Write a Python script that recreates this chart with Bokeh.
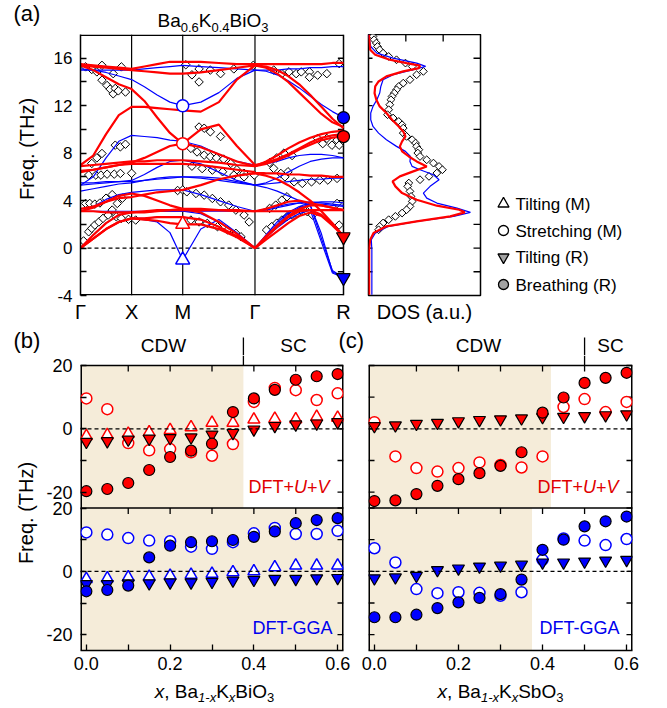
import numpy as np
from bokeh.plotting import figure
from bokeh.models import Range1d, LinearAxis, FixedTicker, Span, BoxAnnotation, Label
from bokeh.layouts import row, column
from bokeh.embed import file_html
from bokeh.resources import INLINE

FONT = "Liberation Sans"
RED, BLUE = "#ff0000", "#0000ff"
TXT_RED, TXT_BLUE = "#e00000", "#0000ee"
BEIGE = "#f5ecd9"
GRAY = "#a3a3a3"

# ---------------- (a) phonon dispersion, Ba0.6K0.4BiO3 ----------------
kpath = [0.0, 0.125, 0.25, 0.375, 0.5, 0.625, 0.75, 0.875, 1.0,
         1.177, 1.354, 1.530, 1.707,
         1.815, 1.924, 2.032, 2.140, 2.248, 2.357, 2.465, 2.573]
kpoint_pos = [0.0, 0.5, 1.0, 1.707, 2.573]
kpoint_lab = ["Γ", "X", "M", "Γ", "R"]

# DFT+U+V bands (THz)
uv_b01 = [15.5,15.4,15.3,15.2,15.1, 15.3,15.5,15.7,15.7, 15.7,15.6,15.5,15.5, 15.5,15.5,15.5,15.5,15.5,15.5,15.6,15.6]
uv_b02 = [15.4,15.3,15.2,15.1,15.0, 14.9,14.8,14.7,14.7, 14.8,15.0,15.2,15.4, 15.3,15.0,14.5,13.8,12.9,11.9,10.9,10.1]
uv_b03 = [15.4,15.0,14.4,13.8,13.4, 12.4,11.0,9.7,8.8, 10.0,10.4,8.6,7.0, 7.2,7.5,7.9,8.4,8.9,9.3,9.5,9.6]
uv_b04 = [7.0,7.8,9.6,11.2,11.9, 11.9,11.8,11.7,11.6, 11.5,12.3,14.2,15.4, 15.2,14.7,14.0,13.1,12.2,11.3,10.6,10.2]
uv_b05 = [6.9,7.0,7.1,7.2,7.3, 7.3,7.4,7.4,7.4, 7.3,7.2,7.0,6.9, 7.1,7.4,7.8,8.3,8.7,9.1,9.3,9.4]
uv_b06 = [6.4,6.6,6.8,7.0,7.1, 7.1,7.1,7.1,7.1, 7.0,6.8,6.6,6.4, 6.3,6.3,6.2,6.2,6.1,6.1,6.0,6.0]
uv_b07 = [6.5,6.6,6.8,7.0,7.2, 7.6,8.1,8.6,8.8, 8.5,7.9,7.3,6.9, 7.3,7.8,8.4,8.9,9.3,9.6,9.8,9.9]
uv_b08 = [3.1,3.4,3.9,4.4,4.6, 4.4,4.0,3.6,3.3, 3.3,3.2,3.2,3.1, 3.1,3.1,3.1,3.2,3.2,3.2,3.2,3.2]
uv_b09 = [3.3,3.5,3.9,4.2,4.3, 4.5,4.7,4.8,4.9, 5.3,5.8,6.1,6.3, 6.1,5.8,5.3,4.7,4.0,3.1,2.1,1.0]
uv_b10 = [0.0,0.8,1.6,2.2,2.5, 2.4,2.3,2.1,2.0, 2.0,1.6,0.9,0.0, 0.7,1.4,2.1,2.7,3.0,2.7,1.9,1.0]
uv_b11 = [0.0,0.8,1.6,2.2,2.5, 2.5,2.6,2.6,2.6, 2.4,1.8,1.0,0.0, 0.9,1.8,2.6,3.1,3.2,2.8,2.0,1.0]
uv_b12 = [0.0,1.1,2.1,2.8,3.0, 3.0,3.1,3.2,3.3, 3.0,2.2,1.2,0.0, 1.0,1.9,2.7,3.3,3.6,3.6,3.4,3.2]
uv_b13 = [3.1,3.1,3.0,3.0,3.0, 3.1,3.2,3.2,3.2, 3.2,3.2,3.1,3.1, 3.3,3.6,3.9,4.0,3.8,3.6,3.4,3.2]
bands_uv = [uv_b01, uv_b02, uv_b03, uv_b04, uv_b05, uv_b06, uv_b07,
            uv_b08, uv_b09, uv_b10, uv_b11, uv_b12, uv_b13]

# DFT-GGA bands (THz)
gga_b01 = [15.0,15.0,15.0,15.0,15.0, 15.1,15.2,15.3,15.4, 15.3,15.2,15.1,15.0, 15.0,15.0,15.1,15.1,15.2,15.2,15.3,15.3]
gga_b02 = [15.1,15.0,14.8,14.5,14.2, 13.6,12.9,12.3,12.0, 12.3,13.1,14.3,15.0, 14.9,14.6,14.1,13.5,12.8,12.1,11.5,11.0]
gga_b03 = [5.3,6.0,7.6,9.0,9.5, 9.4,9.3,9.1,9.0, 8.6,7.9,7.3,7.0, 7.1,7.3,7.6,7.8,7.9,7.9,7.8,7.6]
gga_b04 = [5.5,5.5,5.6,5.6,5.7, 6.2,6.8,7.3,7.4, 7.1,6.4,5.7,5.3, 5.4,5.5,5.6,5.7,5.8,5.8,5.9,5.9]
gga_b05 = [4.8,5.0,5.2,5.4,5.5, 5.7,5.9,6.0,6.0, 5.9,5.7,5.5,5.3, 5.1,4.8,4.4,4.0,3.6,1.2,-2.0,-2.5]
gga_b06 = [3.1,3.5,4.1,4.5,4.7, 4.8,4.9,4.9,4.9, 4.5,4.0,3.5,3.1, 3.3,3.5,3.7,3.8,3.6,0.8,-1.9,-2.5]
gga_b07 = [0.0,0.8,1.6,2.2,2.5, 2.4,2.2,1.3,-1.0, 1.6,2.4,1.3,0.0, 0.9,1.7,2.4,2.9,3.2,0.5,-2.1,-2.5]
gga_b08 = [0.0,0.8,1.6,2.2,2.5, 2.5,2.6,2.6,2.6, 2.4,1.8,1.0,0.0, 1.0,2.0,2.9,3.4,3.7,3.7,3.6,3.5]
gga_b09 = [0.0,1.1,2.1,2.8,3.0, 3.0,3.1,3.1,3.1, 2.9,2.2,1.2,0.0, 1.1,2.2,3.0,3.5,3.8,3.9,3.9,3.8]
gga_b10 = [5.3,5.4,5.5,5.6,5.6, 5.7,5.8,5.9,6.0, 6.0,5.9,5.6,5.3, 5.5,5.9,6.4,6.9,7.3,7.5,7.6,7.6]
gga_b11 = [3.1,3.1,3.1,3.1,3.1, 3.1,3.1,3.1,3.1, 3.1,3.1,3.1,3.1, 3.2,3.4,3.6,3.8,3.9,3.8,3.7,3.6]
bands_gga = [gga_b01, gga_b02, gga_b03, gga_b04, gga_b05, gga_b06,
             gga_b07, gga_b08, gga_b09, gga_b10, gga_b11]

# experimental points
exp_k = [0.05,0.11,0.16,0.21,0.21,0.26,0.29,0.32,0.34,0.37,0.40,0.44,0.32,
         0.11,0.16,0.21,0.34,0.39,0.44,
         0.08,0.15,0.20,0.26,0.33,0.39,0.50,
         0.05,0.09,0.14,0.19,0.25,0.31,0.36,0.41,
         0.03,0.08,0.11,0.14,0.18,0.22,0.27,0.31,0.35,0.40,0.47,
         0.54,0.95,1.00,
         1.03,1.09,1.16,1.16,1.27,1.37,1.50,1.69,
         1.16,1.21,1.27,1.37,1.08,1.14,1.21,1.27,1.33,1.40,1.47,1.53,1.60,1.70,
         1.09,1.19,1.29,1.39,1.50,1.60,
         1.04,1.13,1.21,1.29,1.37,1.45,1.52,1.60,1.65,
         1.08,1.16,1.24,1.34,1.44,1.52,1.57,
         1.89,1.97,2.04,2.11,2.16,2.24,2.24,2.32,2.41,2.53,
         2.32,2.37,2.41,2.46,2.51,2.53,1.85,1.92,1.99,2.07,
         1.82,1.87,1.92,1.97,2.02,2.07,2.12,1.85,1.91,1.97,2.02,2.16,2.22,2.27,2.51,2.53,
         1.89,1.96,2.00,2.09,2.17,2.26,2.34,2.42,2.51,2.03]
exp_f = [15.27,15.05,14.85,15.40,14.15,13.70,13.40,13.00,13.45,13.25,15.27,13.15,14.70,
         7.13,7.60,7.97,8.67,8.53,8.75,
         6.15,6.15,6.15,6.23,6.23,6.29,6.30,
         3.76,3.76,3.70,3.80,4.20,4.50,3.76,4.20,
         0.60,1.37,1.66,1.94,2.20,2.50,2.78,3.20,2.64,2.50,2.42,
         2.36,4.85,4.90,
         15.45,14.60,15.10,14.00,15.00,14.70,15.10,15.40,
         10.20,10.10,9.80,9.40,8.40,8.10,7.83,7.70,7.60,7.50,7.13,6.60,6.30,6.15,
         6.90,6.70,6.57,6.43,6.15,6.00,
         4.74,4.60,4.46,4.18,3.90,3.62,3.20,2.78,2.20,
         2.36,2.20,2.08,1.80,1.52,1.24,0.95,
         15.00,14.70,14.85,14.70,14.85,14.85,14.40,14.57,14.70,15.55,
         9.24,8.80,9.24,8.67,9.10,8.67,7.20,7.60,8.00,7.80,
         1.52,1.80,2.10,2.36,2.64,2.78,2.92,3.34,3.62,4.04,4.32,3.20,3.06,2.78,3.76,1.94,
         6.71,6.29,6.00,5.58,5.45,5.58,5.73,5.73,5.87,6.43]

# special modes (THz)
tiltM_uv, tiltM_gga = 2.0, -1.0
stretchM_uv, stretchM_gga = 8.8, 12.0
breathR_uv, breathR_gga = 9.4, 11.0
tiltR_uv, tiltR_gga = 0.95, -2.5

# DOS
dos_f_uv = [-3.93,0.0,0.70,1.26,1.83,2.25,2.67,3.01,3.23,3.57,4.07,4.63,5.20,5.62,6.04,6.46,6.88,
            7.30,7.72,8.15,8.57,8.99,9.41,9.83,10.25,10.81,11.38,11.94,12.50,13.06,13.62,14.04,
            14.47,14.89,15.17,15.37,15.59,15.87,16.29,16.71,18.0]
dos_uv = [0.006,0.006,0.015,0.045,0.16,0.43,0.73,0.86,0.81,0.61,0.43,0.30,0.24,0.215,0.28,0.40,0.52,
          0.43,0.36,0.30,0.28,0.30,0.33,0.31,0.27,0.21,0.16,0.10,0.07,0.054,0.06,0.09,
          0.16,0.31,0.45,0.46,0.34,0.19,0.06,0.015,0.003]
dos_f_gga = [-3.93,-1.54,-0.14,0.70,1.26,1.83,2.25,2.67,3.01,3.37,3.79,4.21,4.63,5.20,5.76,6.18,6.60,
             6.88,7.30,7.72,8.15,8.57,9.13,9.69,10.25,10.81,11.38,11.94,12.50,13.06,13.62,14.19,
             14.61,15.03,15.31,15.59,16.01,16.43,16.99,18.0]
dos_gga = [0.03,0.03,0.03,0.025,0.06,0.18,0.43,0.76,0.91,0.79,0.61,0.52,0.49,0.55,0.63,0.58,0.46,
           0.39,0.37,0.375,0.33,0.25,0.16,0.09,0.04,0.02,0.02,0.04,0.075,0.10,0.11,0.13,
           0.22,0.40,0.51,0.43,0.22,0.075,0.02,0.0]
dos_f_exp = [17.84,17.56,17.28,16.99,16.71,16.43,16.15,15.87,15.59,15.31,14.89,14.61,14.19,13.90,
             13.62,13.34,13.06,12.78,12.50,12.08,11.66,11.24,10.96,10.67,10.39,10.11,9.69,9.41,
             9.13,8.85,8.57,8.29,8.01,7.72,7.44,7.16,6.88,6.60,6.32,6.04,5.76,5.48,5.20,4.78,
             4.35,3.93,3.51,3.23,2.95,2.67,2.39,2.11,1.83,1.54]
dos_exp = [0.04,0.05,0.07,0.08,0.10,0.13,0.18,0.25,0.33,0.39,0.49,0.43,0.37,0.31,
           0.27,0.25,0.23,0.21,0.20,0.19,0.18,0.17,0.22,0.27,0.30,0.31,0.31,0.34,
           0.39,0.42,0.43,0.45,0.44,0.46,0.52,0.58,0.63,0.66,0.61,0.54,0.46,0.36,0.35,0.37,
           0.38,0.39,0.37,0.34,0.30,0.24,0.18,0.13,0.10,0.09]

legend_labels = ["Tilting (M)", "Stretching (M)", "Tilting (R)", "Breathing (R)"]

# ---------------- (b),(c) doping dependence ----------------
x_dop = [0.0,0.05,0.1,0.15,0.2,0.25,0.3,0.35,0.4,0.45,0.5,0.55,0.6]
bkbo_uv_br = [-19.7,-19.0,-17.1,-13.0,-8.9,-6.9,-4.7,5.3,9.6,12.3,15.5,16.6,17.3]
bkbo_uv_st = [9.6,6.2,-4.5,-6.8,-6.4,-7.4,-8.5,-4.8,8.5,12.9,12.2,9.1,11.2]
bkbo_uv_tM = [-2.3,-2.0,-1.6,-1.1,-0.4,0.5,1.9,1.9,2.9,3.2,3.0,3.8,3.5]
bkbo_uv_tR = [-4.1,-3.9,-3.4,-3.1,-2.9,-2.7,-1.8,-1.3,-0.2,0.9,1.4,1.7,2.1]
bkbo_gga_br = [-6.3,-5.9,-4.5,4.4,8.1,9.2,9.5,9.9,10.9,12.6,15.2,16.2,16.8]
bkbo_gga_st = [12.3,11.6,10.5,9.7,9.5,7.8,7.1,9.2,12.0,13.7,11.8,11.8,12.8]
bkbo_gga_tM = [-2.4,-2.2,-1.9,-1.7,-1.4,-1.1,-0.8,-0.3,0.0,1.3,1.8,1.8,1.8]
bkbo_gga_tR = [-4.0,-4.0,-3.8,-3.8,-3.5,-3.5,-3.3,-2.9,-2.7,-2.4,-2.4,-2.2,-2.1]
bkso_uv_br = [-22.8,-22.6,-20.6,-18.0,-15.9,-14.0,-11.7,-7.4,5.1,9.9,14.5,16.1,17.7]
bkso_uv_st = [2.1,-8.7,-12.4,-13.5,-12.4,-10.6,-11.4,-12.2,-8.7,6.9,9.4,5.3,8.5]
bkso_uv_tR = [0.85,1.1,1.6,1.9,2.4,2.8,3.0,3.3,3.7,3.8,4.0,4.3,4.6]
bkso_gga_br = [-14.5,-14.5,-13.7,-11.6,-9.8,-8.4,-7.2,-2.6,6.8,10.0,14.2,15.8,17.3]
bkso_gga_st = [7.3,2.8,-5.6,-6.9,-6.6,-6.8,-7.7,-6.6,3.6,10.4,9.7,8.3,10.2]
bkso_gga_tR = [-2.2,-1.9,-1.4,0.4,0.9,1.5,1.8,2.1,2.8,2.8,3.1,3.4,3.6]

bkbo_cdw_uv, bkbo_cdw_gga, bkbo_cdw_sc = 0.375, None, 0.375
bkso_cdw_uv, bkso_cdw_gga, bkso_cdw_sc = 0.42, 0.375, 0.5

# ---------------- helpers ----------------
CW = {' ':278, ',':278, '.':278, '-':333, '+':584, '(':333, ')':333, 'a':556, 'b':556,
      'i':222, 'x':500, 'B':667, 'K':667, 'O':778, 'S':667, 'D':722, 'F':611, 'T':611,
      'U':722, 'V':667, 'G':778, 'A':667, 'C':722, 'W':944}
MID = 0.35  # distance (in em) from the alphabetic baseline up to the text middle


def tw(s, size):
    return sum(CW.get(c, 556) for c in s) / 1000.0 * size


def X(g, px):
    return g["x0"] + (px - g["fl"]) * (g["x1"] - g["x0"]) / g["fw"]


def Y(g, py):
    return g["yt"] - (py - g["ft"]) * (g["yt"] - g["yb"]) / g["fh"]


def lab(p, g, px, py, text, size, color="black", style="normal", align="left",
        angle=0.0, is_baseline=True):
    """place text by page pixels; py is the alphabetic baseline unless is_baseline=False"""
    ym = py - MID * size if is_baseline else py
    p.add_layout(Label(x=X(g, px), y=Y(g, ym), text=text, text_font=FONT,
                       text_font_size=f"{size}px", text_font_style=style, text_color=color,
                       text_align=align, text_baseline="middle", angle=angle))


def rich(p, g, px, py, segs, color="black", align="left"):
    total = sum(tw(t, s) for t, s, st, dy in segs)
    if align == "center":
        px -= total / 2
    elif align == "right":
        px -= total
    for t, s, st, dy in segs:
        lab(p, g, px, py + dy, t, s, color=color, style=st)
        px += tw(t, s)


def mkfig(w, h, xr, yr, bl, br, bt, bb):
    p = figure(width=w, height=h, x_range=xr, y_range=yr, min_border_left=bl,
               min_border_right=br, min_border_top=bt, min_border_bottom=bb,
               x_axis_location=None, y_axis_location=None, title=None,
               output_backend="svg", toolbar_location=None)
    p.grid.visible = False
    p.outline_line_color = None
    p.background_fill_color = "white"
    p.border_fill_color = "white"
    return p


def strip(x0, y0, w, h, bb=0):
    """text strip; its frame spans page pixels x0..x0+w, y0..y0+h-bb (data units = page px)"""
    fh = h - bb
    p = mkfig(w, h, Range1d(x0, x0 + w), Range1d(y0 + fh, y0), 0, 0, 0, bb)
    g = dict(fl=x0, ft=y0, fw=w, fh=fh, x0=x0, x1=x0 + w, yb=y0 + fh, yt=y0)
    return p, g


def axis(p, side, ticks, minor=(), labels=None, size="17px", tick_in=6, standoff=8,
         line=False):
    a = LinearAxis(ticker=FixedTicker(ticks=list(ticks), minor_ticks=list(minor)))
    a.major_tick_in = tick_in
    a.major_tick_out = 0
    a.minor_tick_in = tick_in
    a.minor_tick_out = 0
    a.major_tick_line_width = 1.3
    a.minor_tick_line_width = 1.3
    a.major_tick_line_color = "black"
    a.minor_tick_line_color = "black"
    a.axis_line_color = "black" if line else None
    a.axis_line_width = 1.5
    a.major_label_text_font = FONT
    a.major_label_text_color = "black"
    a.axis_label_text_font = FONT
    a.axis_label_text_font_style = "normal"
    a.axis_label_text_color = "black"
    if labels is not None:
        a.major_label_overrides = labels
    a.major_label_text_font_size = size
    a.major_label_standoff = standoff
    p.add_layout(a, side)
    return a


def hticks(p, x_edge, x_in, ys):
    p.segment(x0=[x_edge] * len(ys), y0=ys, x1=[x_in] * len(ys), y1=ys,
              line_color="black", line_width=1.3)


# ---------------- title strip ----------------
pt, gt = strip(0, 0, 648, 34)
lab(pt, gt, 13, 21, "(a)", 22)
rich(pt, gt, 157, 27, [("Ba", 19, "normal", 0), ("0.6", 13, "normal", 4.5),
                       ("K", 19, "normal", 0), ("0.4", 13, "normal", 4.5),
                       ("BiO", 19, "normal", 0), ("3", 13, "normal", 4.5)])

# ---------------- y label strip for (a) ----------------
pya, gya = strip(0, 34, 40, 291, bb=30)
lab(pya, gya, 26, 148.5, "Freq. (THz)", 20, align="center", angle=np.pi / 2,
    is_baseline=False)

# ---------------- panel (a) ----------------
R_K = kpoint_pos[4]
M_K = kpoint_pos[2]
XA_HI = R_K * 270.0 / 263.0
pa = mkfig(313, 291, Range1d(0, XA_HI), Range1d(-4, 18), 40, 3, 0, 30)

ya_ticks = [-4, 0, 4, 8, 12, 16]
axis(pa, "left", ya_ticks, minor=[-2, 2, 6, 10, 14],
     labels={t: str(t) for t in ya_ticks}, size="17px", tick_in=6, standoff=8, line=True)
axis(pa, "below", kpoint_pos, labels=dict(zip(kpoint_pos, kpoint_lab)),
     size="20px", tick_in=0, standoff=5)

for k in kpoint_pos[1:4]:
    pa.add_layout(Span(location=k, dimension="height", line_color="black",
                       line_width=1.2, level="underlay"))
pa.add_layout(Span(location=R_K, dimension="height", line_color="black",
                   line_width=1.5, level="underlay"))
E = 0.7 * 22.0 / 261.0
pa.segment(x0=[0, 0], y0=[18 - E, -4 + E], x1=[R_K, R_K], y1=[18 - E, -4 + E],
           line_color="black", line_width=1.5)
hticks(pa, R_K, R_K - 0.055, [-2, 0, 2, 4, 6, 8, 10, 12, 14, 16])
pa.segment(x0=[0], y0=[0], x1=[R_K], y1=[0], line_color="black", line_width=1.2,
           line_dash="4 3")

pa.scatter(exp_k, exp_f, marker="square", angle=np.pi / 4, size=6, fill_color="white",
           line_color="black", line_width=1.0)
for b in bands_gga:
    pa.line(kpath, b, line_color=BLUE, line_width=1.2)
for b in bands_uv:
    pa.line(kpath, b, line_color=RED, line_width=2.2)

pa.scatter([M_K], [tiltM_gga], marker="triangle", size=14, fill_color="white",
           line_color=BLUE, line_width=1.5)
pa.scatter([M_K], [tiltM_uv], marker="triangle", size=14, fill_color="white",
           line_color=RED, line_width=1.5)
pa.scatter([M_K], [stretchM_gga], marker="circle", size=12, fill_color="white",
           line_color=BLUE, line_width=1.5)
pa.scatter([M_K], [stretchM_uv], marker="circle", size=12, fill_color="white",
           line_color=RED, line_width=1.5)
pa.scatter([R_K], [breathR_gga], marker="circle", size=12, fill_color=BLUE,
           line_color="black", line_width=1.2)
pa.scatter([R_K], [breathR_uv], marker="circle", size=12, fill_color=RED,
           line_color="black", line_width=1.2)
pa.scatter([R_K], [tiltR_uv], marker="inverted_triangle", size=14, fill_color=RED,
           line_color="black", line_width=1.2)
pa.scatter([R_K], [tiltR_gga], marker="inverted_triangle", size=14, fill_color=BLUE,
           line_color="black", line_width=1.2)

# ---------------- DOS ----------------
pdos = mkfig(139, 291, Range1d(0, 1), Range1d(-4, 18), 15, 12, 0, 30)
pdos.outline_line_color = "black"
pdos.outline_line_width = 1.5
dt = [-2, 0, 2, 4, 6, 8, 10, 12, 14, 16]
hticks(pdos, 0.0, 4 / 112.0, dt)
hticks(pdos, 1.0, 1 - 7 / 112.0, dt)
ab = axis(pdos, "below", [], tick_in=0)
ab.axis_label = "DOS (a.u.)"
ab.axis_label_text_font_size = "20px"
ab.axis_label_standoff = 5
TKD = 7 * 22.0 / 261.0
pdos.segment(x0=[1 / 3, 2 / 3], y0=[18, 18], x1=[1 / 3, 2 / 3], y1=[18 - TKD, 18 - TKD],
             line_color="black", line_width=1.3)
pdos.scatter(dos_exp, dos_f_exp, marker="square", angle=np.pi / 4, size=5.5,
             fill_color="white", line_color="black", line_width=1.0)
pdos.line(dos_gga, dos_f_gga, line_color=BLUE, line_width=1.2)
pdos.line(dos_uv, dos_f_uv, line_color=RED, line_width=2.2)

# ---------------- legend ----------------
pleg, gleg = strip(492, 34, 156, 291, bb=30)
leg_mark_y = [203.3, 230.0, 256.7, 284.0]
pleg.scatter([503], [leg_mark_y[0]], marker="triangle", size=11, fill_color="white",
             line_color="black", line_width=1.3)
pleg.scatter([503], [leg_mark_y[1]], marker="circle", size=10, fill_color="white",
             line_color="black", line_width=1.3)
pleg.scatter([503], [leg_mark_y[2]], marker="inverted_triangle", size=11, fill_color=GRAY,
             line_color="black", line_width=1.3)
pleg.scatter([503], [leg_mark_y[3]], marker="circle", size=10, fill_color=GRAY,
             line_color="black", line_width=1.3)
for t, yy in zip(legend_labels, leg_mark_y):
    lab(pleg, gleg, 515, yy + 6.5, t, 17)

# ---------------- (b), (c) ----------------
XLO, XHI = -0.014, 0.614
EXT = 10 * 90.0 / 285.0
YT = 20 + EXT
TK = 6 * 90.0 / 285.0
TKX = 6 * (XHI - XLO) / 263.0
GB = dict(fl=80, ft=355, fw=263, fh=295, x0=XLO, x1=XHI, yb=-70.0, yt=YT)
GC = dict(fl=368, ft=355, fw=264, fh=295, x0=XLO, x1=XHI, yb=-70.0, yt=YT)

yt_major = [20, 0, -20, -25, -45, -65]
yt_minor = [10, -10, -35, -55]
yt_labels = {20: "20", 0: "0", -20: "-20", -25: "20", -45: "0", -65: "-20"}
xt_major = [0.0, 0.2, 0.4, 0.6]
xt_labels = {0.0: "0.0", 0.2: "0.2", 0.4: "0.4", 0.6: "0.6"}


def body(width, bl, br, g, uv, gga, cdw_uv, cdw_gga, cdw_sc, show_y, uv_lab_x, gga_lab_x):
    p = mkfig(width, 325, Range1d(XLO, XHI), Range1d(-70, YT), bl, br, 0, 30)
    p.extra_y_ranges = {"low": Range1d(-25, YT + 45)}
    kw = dict(fill_color=BEIGE, fill_alpha=1.0, line_color=None, level="underlay")
    p.add_layout(BoxAnnotation(right=cdw_uv, bottom=-25, top=20, **kw))
    if cdw_gga is None:
        p.add_layout(BoxAnnotation(top=-25, **kw))
    else:
        p.add_layout(BoxAnnotation(right=cdw_gga, top=-25, **kw))
    p.add_layout(Span(location=0, dimension="width", line_color="black", line_width=1.2,
                      line_dash="4 3"))
    p.add_layout(Span(location=0, dimension="width", line_color="black", line_width=1.2,
                      line_dash="4 3", y_range_name="low"))
    # frame
    p.segment(x0=[XLO, XHI], y0=[-70, -70], x1=[XLO, XHI], y1=[20, 20],
              line_color="black", line_width=3)
    p.segment(x0=[XLO, XLO], y0=[20, -25], x1=[XHI, XHI], y1=[20, -25],
              line_color="black", line_width=1.5)
    tx = [0.1, 0.2, 0.3, 0.4, 0.5]
    p.segment(x0=tx, y0=[20] * 5, x1=tx, y1=[20 - TK] * 5, line_color="black", line_width=1.3)
    p.segment(x0=tx, y0=[-25] * 5, x1=tx, y1=[-25 - TK] * 5, line_color="black", line_width=1.3)
    p.segment(x0=[cdw_sc], y0=[20], x1=[cdw_sc], y1=[YT], line_color="black", line_width=1.3)

    yall = yt_major + yt_minor
    hticks(p, XHI, XHI - TKX, yall)
    if show_y:
        axis(p, "left", yt_major, minor=yt_minor, labels=yt_labels, size="18px",
             tick_in=6, standoff=8)
    else:
        hticks(p, XLO, XLO + TKX, yall)
    axis(p, "below", xt_major, minor=[0.1, 0.3, 0.5], labels=xt_labels, size="18px",
         tick_in=6, standoff=6, line=True)

    for d, yr, col in ((uv, "default", RED), (gga, "low", BLUE)):
        p.scatter(x_dop, d["st"], marker="circle", size=11, fill_color="white",
                  line_color=col, line_width=1.5, y_range_name=yr)
        if "tM" in d:
            p.scatter(x_dop, d["tM"], marker="triangle", size=12, fill_color="white",
                      line_color=col, line_width=1.5, y_range_name=yr)
        p.scatter(x_dop, d["tR"], marker="inverted_triangle", size=12, fill_color=col,
                  line_color="black", line_width=1.2, y_range_name=yr)
        p.scatter(x_dop, d["br"], marker="circle", size=11, fill_color=col,
                  line_color="black", line_width=1.2, y_range_name=yr)

    rich(p, g, uv_lab_x, 493, [("DFT+", 18, "normal", 0), ("U", 18, "italic", 0),
                               ("+", 18, "normal", 0), ("V", 18, "italic", 0)], color=TXT_RED)
    lab(p, g, gga_lab_x, 633.5, "DFT-GGA", 18, color=TXT_BLUE)
    return p


pb = body(313, 40, 10, GB,
          dict(br=bkbo_uv_br, st=bkbo_uv_st, tM=bkbo_uv_tM, tR=bkbo_uv_tR),
          dict(br=bkbo_gga_br, st=bkbo_gga_st, tM=bkbo_gga_tM, tR=bkbo_gga_tR),
          bkbo_cdw_uv, bkbo_cdw_gga, bkbo_cdw_sc, True, 248, 252)
pc = body(291, 15, 12, GC,
          dict(br=bkso_uv_br, st=bkso_uv_st, tR=bkso_uv_tR),
          dict(br=bkso_gga_br, st=bkso_gga_st, tR=bkso_gga_tR),
          bkso_cdw_uv, bkso_cdw_gga, bkso_cdw_sc, False, 537, 539)

# y label strip for (b)
pyb, gyb = strip(0, 355, 40, 325, bb=30)
lab(pyb, gyb, 25, 512.5, "Freq. (THz)", 20, align="center", angle=np.pi / 2,
    is_baseline=False)

# header strip for (b), (c)
ph, gh = strip(0, 325, 648, 30)
sb = (XHI - XLO) / 263.0
sc = (XHI - XLO) / 264.0
ph.extra_x_ranges = {"b": Range1d(XLO - 80 * sb, XLO + (648 - 80) * sb),
                     "c": Range1d(XLO - 368 * sc, XLO + (648 - 368) * sc)}
ph.segment(x0=[bkbo_cdw_sc], y0=[337], x1=[bkbo_cdw_sc], y1=[355], line_color="black",
           line_width=1.3, x_range_name="b")
ph.segment(x0=[bkso_cdw_sc], y0=[337], x1=[bkso_cdw_sc], y1=[355], line_color="black",
           line_width=1.3, x_range_name="c")
lab(ph, gh, 13, 348, "(b)", 22)
lab(ph, gh, 338, 348, "(c)", 22)
lab(ph, gh, 163, 351.5, "CDW", 19, align="center")
lab(ph, gh, 293, 351.5, "SC", 19, align="center")
lab(ph, gh, 478, 351.5, "CDW", 19, align="center")
lab(ph, gh, 610, 351.5, "SC", 19, align="center")

# x label strip
px_, gx = strip(0, 680, 648, 26)


def xlabel(center, compound):
    rich(px_, gx, center, 698, [("x", 19, "italic", 0), (", Ba", 19, "normal", 0),
                                ("1-x", 13, "italic", 4), ("K", 19, "normal", 0),
                                ("x", 13, "italic", 4), (compound, 19, "normal", 0),
                                ("3", 13, "normal", 4)], align="center")


xlabel(214, "BiO")
xlabel(500, "SbO")

layout = column(pt, row(pya, pa, pdos, pleg), ph, row(pyb, pb, pc), px_)
open("out.html", "w").write(file_html(layout, INLINE))
